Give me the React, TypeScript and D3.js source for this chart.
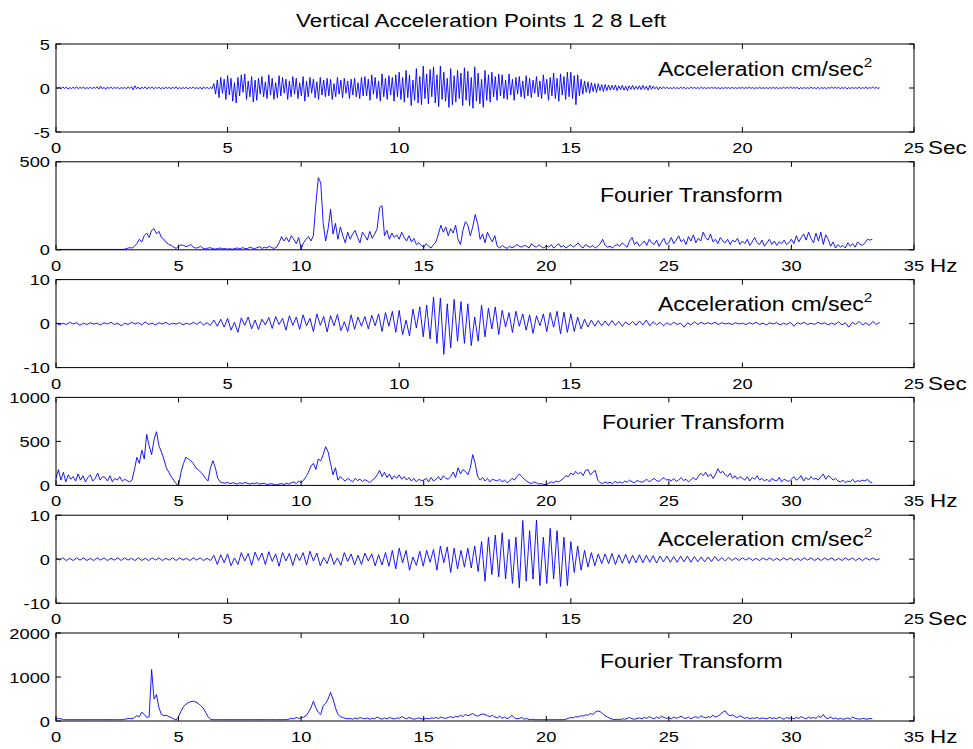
import React from "react";
import * as d3 from "d3";

// ---------- DATA ----------
const TITLE = "Vertical Acceleration Points 1 2 8 Left";
const TIME_TICKS = [0, 5, 10, 15, 20, 25];
const FREQ_TICKS = [0, 5, 10, 15, 20, 25, 30, 35];
const DT1 = 0.05; // sec between samples of the first acceleration record
const DT = 0.1; // sec between samples of the other acceleration records
const DF = 0.1; // Hz between samples of spectra

const acc1 = [
  0.1,-0.05,0.08,-0.1,0.12,-0.06,0.1,-0.12,0.05,-0.08,0.1,-0.06,0.15,-0.1,0.08,-0.05,0.12,-0.1,0.06,-0.08,
  0.12,-0.08,0.1,-0.05,0.15,-0.12,0.2,-0.1,0.08,-0.15,0.1,-0.06,0.12,-0.1,0.08,-0.05,0.1,-0.12,0.06,-0.05,
  0.08,-0.1,0.12,-0.06,0.15,-0.2,0.25,-0.1,0.12,-0.15,0.1,-0.08,0.15,-0.12,0.1,-0.06,0.12,-0.1,0.08,-0.05,
  0.1,-0.12,0.06,-0.08,0.1,-0.05,0.08,-0.1,0.12,-0.08,0.15,-0.1,0.06,-0.08,0.05,-0.06,0.1,-0.12,0.08,-0.05,
  0.12,-0.08,0.06,-0.1,0.1,-0.15,0.12,-0.06,0.08,-0.1,0.1,-0.08,0.5,-0.7,0.9,-1.1,1.2,-0.6,1.0,-1.3,
  1.4,-0.8,1.1,-1.5,0.6,-1.7,1.2,-0.9,1.5,-0.5,1.6,-1.3,0.8,-1.0,1.3,-1.6,0.9,-1.4,1.1,-0.7,
  1.3,-1.0,0.7,-1.2,1.5,-0.8,1.1,-1.3,0.6,-1.1,1.4,-0.9,1.2,-0.6,1.0,-1.3,0.8,-1.0,1.3,-0.7,
  1.1,-1.2,0.6,-0.9,1.3,-1.5,0.8,-1.0,1.2,-0.6,1.0,-1.1,0.7,-1.3,1.2,-0.8,0.9,-1.0,1.1,-0.9,
  1.0,-1.3,0.5,-1.0,1.2,-0.7,0.9,-1.1,1.1,-0.6,0.8,-1.2,1.0,-0.8,1.1,-1.0,0.6,-1.2,1.2,-0.9,
  1.3,-0.9,1.0,-1.4,1.5,-0.7,1.2,-1.2,0.8,-1.5,1.6,-1.0,1.1,-1.3,1.4,-0.8,1.2,-1.5,1.5,-1.0,
  1.8,-1.3,1.2,-1.6,2.0,-1.1,1.5,-2.0,0.9,-1.4,2.2,-1.7,1.3,-1.9,2.5,-1.2,1.6,-1.8,2.1,-1.0,
  2.4,-1.7,1.5,-2.1,2.5,-1.3,1.8,-1.5,1.1,-2.2,2.2,-1.9,1.4,-1.6,2.0,-1.2,1.7,-2.0,2.3,-1.4,
  1.9,-2.0,1.2,-2.3,2.4,-1.5,1.7,-1.8,1.0,-2.2,2.0,-1.4,1.5,-1.6,1.8,-1.0,1.3,-1.4,1.6,-0.9,
  1.5,-1.2,0.9,-1.3,1.6,-0.8,1.0,-1.4,1.2,-0.7,1.3,-1.0,0.8,-1.2,1.4,-0.9,1.1,-1.1,0.9,-0.6,
  1.3,-1.0,0.8,-1.2,1.5,-0.7,1.0,-1.4,1.2,-0.9,1.7,-1.2,1.1,-1.5,1.6,-0.8,1.3,-1.3,1.8,-1.0,
  1.8,-1.2,1.4,-1.9,1.5,-0.9,1.0,-0.7,0.8,-0.5,0.7,-0.6,0.6,-0.4,0.5,-0.5,0.5,-0.3,0.4,-0.4,
  0.4,-0.3,0.35,-0.25,0.3,-0.2,0.35,-0.3,0.25,-0.2,0.3,-0.25,0.2,-0.3,0.25,-0.15,0.3,-0.2,0.2,-0.15,
  0.25,-0.2,0.3,-0.15,0.2,-0.25,0.3,-0.15,0.2,-0.1,0.15,-0.2,0.12,-0.1,0.15,-0.08,0.1,-0.12,0.08,-0.1,
  0.1,-0.08,0.06,-0.1,0.12,-0.05,0.08,-0.1,0.06,-0.08,0.1,-0.05,0.08,-0.06,0.05,-0.08,0.1,-0.06,0.06,-0.08,
  0.06,-0.05,0.08,-0.04,0.06,-0.06,0.05,-0.08,0.04,-0.05,0.06,-0.04,0.05,-0.06,0.07,-0.05,0.04,-0.06,0.05,-0.04,
  0.08,-0.06,0.05,-0.04,0.1,-0.05,0.06,-0.08,0.05,-0.06,0.1,-0.06,0.04,-0.05,0.06,-0.07,0.05,-0.04,0.07,-0.05,
  0.06,-0.08,0.04,-0.05,0.1,-0.06,0.08,-0.05,0.12,-0.05,0.06,-0.04,0.08,-0.1,0.05,-0.06,0.06,-0.05,0.04,-0.06,
  0.1,-0.06,0.05,-0.08,0.08,-0.1,0.06,-0.05,0.05,-0.08,0.06,-0.04,0.12,-0.06,0.08,-0.05,0.1,-0.08,0.06,-0.05,
  0.08,-0.1,0.05,-0.06,0.06,-0.05,0.04,-0.06,0.1,-0.08,0.06,-0.05,0.12,-0.1,0.08,-0.06,0.15,-0.05,0.08,-0.06,
  0.05,
];

const acc2 = [
  0.2,-0.3,0.1,-0.2,0.3,-0.1,0.2,-0.4,0.1,-0.2,
  0.2,-0.1,0.1,-0.3,0.2,-0.1,0.3,-0.2,0.1,-0.5,
  0.1,-0.2,0.3,-0.1,0.2,-0.3,0.4,-0.2,0.1,-0.3,
  0.2,-0.1,0.3,-0.2,0.1,-0.1,0.2,-0.3,0.1,-0.2,
  0.3,-0.2,0.4,-0.3,0.2,-0.4,0.8,-0.6,1.0,-0.8,
  1.2,-1.5,0.3,-2.0,1.3,-0.4,1.5,-1.2,0.8,-1.3,
  1.0,-0.3,1.4,-1.1,1.6,-0.2,1.2,-1.5,1.8,-0.4,
  1.5,-1.3,2.0,-0.5,1.2,-1.8,2.2,-0.4,1.6,-1.9,
  1.8,-0.5,2.1,-1.6,0.4,-1.8,2.0,-1.3,1.5,-0.6,
  1.6,-1.2,1.9,-0.5,2.2,-1.8,2.5,-0.6,2.8,-2.0,
  3.0,-2.5,0.8,-2.8,3.3,-1.0,3.8,-3.0,4.2,-3.5,
  6.0,-4.5,5.8,-7.0,4.5,-5.5,5.5,-4.0,5.0,-4.5,
  4.5,-5.0,1.5,-4.0,4.2,-3.0,3.5,-1.2,3.8,-2.5,
  3.0,-0.8,2.5,-2.0,2.8,-0.6,2.2,-1.5,2.0,-2.2,
  1.8,-0.5,2.2,-1.8,2.5,-0.8,2.8,-2.3,2.6,-2.0,
  2.2,-1.8,1.5,-1.2,1.0,-0.8,0.8,-0.6,0.7,-0.5,
  0.6,-0.5,0.7,-0.4,0.5,-0.6,0.4,-0.3,0.5,-0.4,
  0.6,-0.3,0.8,-0.5,0.4,-0.3,0.3,-0.5,0.2,-0.3,
  0.3,-0.2,0.1,-0.8,0.2,-0.3,0.4,-0.2,0.3,-0.1,
  0.2,-0.1,0.3,-0.2,0.2,-0.1,0.1,-0.2,0.2,-0.1,
  0.1,-0.2,0.2,-0.1,0.3,-0.2,0.1,-0.3,0.2,-0.1,
  0.2,-0.3,0.1,-0.2,0.3,-0.6,0.2,-0.1,0.3,-0.2,
  0.1,-0.2,0.3,-0.1,0.2,-0.3,0.1,-0.2,0.4,-0.3,
  0.2,-0.8,0.3,-0.2,0.5,-0.3,0.2,-0.4,0.5,-0.2,
  0.3,
];

const acc3 = [
  0.3,-0.2,0.3,-0.3,0.2,-0.3,0.3,-0.2,0.3,-0.3,
  0.2,-0.3,0.3,-0.2,0.3,-0.3,0.2,-0.2,0.3,-0.3,
  0.3,-0.2,0.2,-0.3,0.3,-0.3,0.2,-0.3,0.3,-0.2,
  0.3,-0.3,0.2,-0.2,0.3,-0.3,0.3,-0.2,0.2,-0.3,
  0.3,-0.2,0.3,-0.3,0.2,-0.3,0.9,-1.2,1.0,-0.8,
  1.2,-1.5,0.3,-1.2,1.5,-0.4,1.3,-1.4,1.6,-0.3,
  1.4,-1.2,1.7,-0.5,1.2,-1.6,1.5,-0.4,1.3,-1.4,
  1.2,-0.3,1.5,-1.3,1.8,-0.4,1.4,-1.5,0.4,-1.0,
  1.3,-1.2,0.3,-1.4,1.5,-0.5,1.2,-1.3,0.9,-1.2,
  1.4,-0.4,1.2,-1.5,1.0,-1.3,1.5,-1.6,2.0,-2.2,
  2.5,-0.8,2.0,-2.5,0.5,-1.4,1.8,-1.6,2.0,-0.7,
  2.2,-2.5,3.0,-0.8,2.8,-3.0,2.5,-2.2,2.0,-1.8,
  2.5,-2.0,3.0,-2.8,4.0,-5.0,5.0,-3.5,5.5,-4.0,
  6.0,-4.5,4.5,-5.5,5.0,-6.5,8.8,-5.0,6.5,-4.5,
  8.9,-6.0,5.0,-5.5,7.0,-4.5,6.5,-6.2,5.0,-6.0,
  4.0,-3.0,3.0,-2.5,2.0,-1.8,1.5,-1.5,1.2,-1.0,
  1.2,-1.0,1.3,-1.2,1.0,-0.9,1.1,-1.0,0.9,-0.8,
  1.0,-0.8,0.9,-0.7,0.8,-0.9,0.7,-0.6,0.7,-0.7,
  0.6,-0.7,0.7,-0.6,0.7,-0.7,0.6,-0.6,0.5,-0.6,
  0.5,-0.5,0.6,-0.4,0.4,-0.4,0.4,-0.3,0.3,-0.3,
  0.3,-0.2,0.3,-0.3,0.2,-0.3,0.3,-0.2,0.3,-0.3,
  0.2,-0.3,0.3,-0.2,0.3,-0.3,0.2,-0.3,0.3,-0.2,
  0.3,-0.3,0.2,-0.3,0.3,-0.2,0.3,-0.3,0.2,-0.3,
  0.3,-0.2,0.3,-0.3,0.2,-0.3,0.3,-0.2,0.3,-0.2,
  0.1,
];

const fft1 = [
  2,2,2,2,2,2,2,2,2,2,
  2,2,2,2,2,2,2,2,2,2,
  2,2,2,2,2,2,2,2,3,8,
  12,10,20,35,60,45,80,95,70,110,
  120,90,105,70,60,40,30,25,15,8,
  20,28,25,18,22,30,15,10,12,20,
  8,5,10,12,6,4,8,10,5,7,
  4,6,3,8,10,5,12,8,6,15,
  10,6,12,18,8,14,10,20,12,8,
  15,40,75,50,70,45,80,60,35,70,
  5,40,60,75,50,80,260,410,380,150,
  50,120,230,90,150,60,130,80,40,100,
  60,90,110,70,40,100,80,55,105,65,
  90,120,240,250,80,110,60,95,70,85,
  60,100,70,50,80,45,65,30,40,25,
  15,35,20,10,30,45,90,140,100,130,
  80,120,95,140,60,30,110,160,140,80,
  130,200,150,60,90,40,100,70,45,80,
  20,10,25,15,8,20,12,18,30,20,
  15,25,20,10,35,20,15,28,18,10,
  25,15,30,10,20,35,15,25,10,20,
  30,15,25,40,20,10,30,20,15,25,
  10,20,35,60,25,15,20,10,25,30,
  20,40,25,15,50,70,30,45,20,35,
  50,25,60,40,30,55,20,45,65,30,
  40,70,35,55,80,45,60,30,75,50,
  85,40,65,50,100,70,55,90,45,60,
  35,70,50,40,60,30,55,45,65,30,
  50,35,60,25,45,70,40,30,55,20,
  40,60,30,50,25,45,35,55,30,40,
  60,35,80,45,70,90,55,100,65,40,
  95,50,100,30,85,60,20,45,10,30,
  15,25,10,40,20,35,15,45,30,25,
  40,60,55,60,
];

const fft2 = [
  80,180,60,150,40,120,70,100,50,130,
  60,110,40,90,120,50,80,140,60,100,
  90,50,110,40,80,60,100,45,70,55,
  40,60,180,320,250,400,300,580,450,350,
  520,610,450,380,300,200,150,100,60,20,
  0,150,250,320,300,280,250,200,180,150,
  120,80,50,200,280,200,80,40,30,25,
  35,20,30,25,15,30,20,35,25,15,
  25,20,30,15,20,25,10,15,20,10,
  5,15,20,10,25,15,30,40,20,50,
  30,60,100,150,220,250,180,300,280,350,
  440,380,250,120,200,60,100,70,50,80,
  60,40,80,55,70,45,65,50,30,60,
  80,120,170,100,150,90,130,70,110,80,
  120,70,100,60,90,50,80,40,70,55,
  60,80,40,90,50,70,100,60,110,80,
  70,100,150,90,200,130,180,160,120,200,
  350,250,100,60,90,50,80,40,70,60,
  50,70,40,60,30,50,80,60,100,130,
  100,70,50,30,20,40,30,15,20,10,
  10,25,40,30,50,40,60,80,110,100,
  140,120,160,130,150,110,170,180,120,150,
  170,60,30,20,40,25,35,20,45,30,
  40,25,50,35,60,40,30,55,45,35,
  50,70,40,60,80,55,45,70,90,60,
  70,50,80,45,60,90,55,70,40,65,
  90,60,100,140,110,150,100,130,80,120,
  190,140,160,120,100,140,80,110,70,100,
  80,60,100,50,90,70,110,60,80,50,
  70,40,80,60,50,90,40,70,55,45,
  70,100,60,80,110,50,90,60,100,70,
  80,60,100,130,70,110,90,60,80,50,
  40,60,30,50,40,70,35,55,45,60,
  50,70,40,30,
];

const fft3 = [
  40,60,50,30,30,30,30,30,30,30,
  30,30,30,30,30,30,30,30,30,30,
  30,30,30,30,30,30,30,30,40,50,
  60,50,80,120,100,200,150,80,100,1170,
  500,600,300,150,120,130,100,80,50,20,
  100,220,330,380,420,440,450,430,400,350,
  300,200,100,40,30,30,30,30,30,30,
  30,30,30,30,30,30,30,30,30,30,
  30,30,30,30,30,30,30,30,30,30,
  30,30,30,30,30,40,60,50,80,60,
  70,90,120,200,300,450,300,200,150,350,
  400,500,650,500,300,150,100,80,60,50,
  60,40,70,50,80,60,50,70,40,60,
  50,90,60,40,70,50,80,60,45,70,
  60,100,70,50,80,60,40,55,70,50,
  40,60,50,70,60,80,55,90,70,60,
  80,100,70,110,90,130,100,150,120,140,
  170,130,110,140,160,150,120,100,130,90,
  70,110,60,90,50,80,130,70,50,60,
  80,40,60,30,40,30,30,30,30,30,
  30,30,30,30,30,30,30,30,40,60,
  80,70,100,90,120,110,140,130,170,150,
  200,230,210,170,120,90,60,40,30,40,
  30,50,40,60,80,50,40,60,70,50,
  80,60,100,70,50,90,60,110,80,60,
  70,50,90,60,80,110,70,60,90,50,
  80,100,60,120,90,70,100,80,130,90,
  110,150,200,230,150,120,140,100,80,120,
  90,60,80,50,70,60,80,50,70,60,
  50,80,60,70,50,90,60,40,80,60,
  70,50,80,60,100,70,50,90,60,80,
  60,110,80,150,70,60,90,50,70,40,
  60,40,50,70,40,90,60,50,40,60,
  50,40,60,50,
];

const accTicks1 = [-5, 0, 5];
const accTicks2 = [-10, 0, 10];
const fftTicks1 = [0, 500];
const fftTicks2 = [0, 500, 1000];
const fftTicks3 = [0, 1000, 2000];

// ---------- LAYOUT ----------
const W = 973;
const H = 749;
const LEFT = 56;
const RIGHT = 914;
const TOP0 = 44;
const STEP = 117.8;
const PH = 88;
const SX = 1.18; // horizontal stretch of the original's text
const FONT = "'Liberation Sans', Arial, Helvetica, sans-serif";
const TICK = 5;

type Panel = {
  kind: "time" | "freq";
  data: number[];
  step: number;
  yDomain: [number, number];
  yTicks: number[];
  labelX: number;
  labelDy: number;
};

const panels: Panel[] = [
  { kind: "time", data: acc1, step: DT1, yDomain: [-5, 5], yTicks: accTicks1, labelX: 658, labelDy: 32 },
  { kind: "freq", data: fft1, step: DF, yDomain: [0, 500], yTicks: fftTicks1, labelX: 600, labelDy: 40 },
  { kind: "time", data: acc2, step: DT, yDomain: [-10, 10], yTicks: accTicks2, labelX: 658, labelDy: 31 },
  { kind: "freq", data: fft2, step: DF, yDomain: [0, 1000], yTicks: fftTicks2, labelX: 602, labelDy: 32 },
  { kind: "time", data: acc3, step: DT, yDomain: [-10, 10], yTicks: accTicks2, labelX: 658, labelDy: 31 },
  { kind: "freq", data: fft3, step: DF, yDomain: [0, 2000], yTicks: fftTicks3, labelX: 600, labelDy: 35 },
];

function T(props: { x: number; y: number; size: number; anchor?: string; children: React.ReactNode }) {
  const { x, y, size, anchor = "start", children } = props;
  return (
    <text
      transform={`translate(${x},${y}) scale(${SX},1)`}
      fontSize={size}
      textAnchor={anchor}
      fontFamily={FONT}
      fill="#000"
    >
      {children}
    </text>
  );
}

function PanelView({ p, idx }: { p: Panel; idx: number }) {
  const top = TOP0 + idx * STEP;
  const bottom = top + PH;
  const isTime = p.kind === "time";
  const xTicks = isTime ? TIME_TICKS : FREQ_TICKS;
  const x = d3.scaleLinear().domain([0, isTime ? 25 : 35]).range([LEFT, RIGHT]);
  const y = d3.scaleLinear().domain(p.yDomain).range([bottom, top]);
  const line = d3
    .line<number>()
    .x((_, i) => x(i * p.step))
    .y((d) => y(d));
  return (
    <g>
      <rect x={LEFT} y={top} width={RIGHT - LEFT} height={PH} fill="#fff" stroke="none" />
      <path d={line(p.data) || ""} fill="none" stroke="#0000ff" strokeWidth={0.9} />
      <rect x={LEFT} y={top} width={RIGHT - LEFT} height={PH} fill="none" stroke="#000" strokeWidth={1} />
      {xTicks.map((t) => (
        <g key={"x" + t}>
          <line x1={x(t)} x2={x(t)} y1={bottom} y2={bottom - TICK} stroke="#000" />
          <line x1={x(t)} x2={x(t)} y1={top} y2={top + TICK} stroke="#000" />
          <T x={x(t)} y={bottom + 21} size={15.5} anchor="middle">
            {t}
          </T>
        </g>
      ))}
      {p.yTicks.map((t) => (
        <g key={"y" + t}>
          <line x1={LEFT} x2={LEFT + TICK} y1={y(t)} y2={y(t)} stroke="#000" />
          <line x1={RIGHT} x2={RIGHT - TICK} y1={y(t)} y2={y(t)} stroke="#000" />
          <T x={LEFT - 6} y={y(t) + 5.5} size={15.5} anchor="end">
            {t}
          </T>
        </g>
      ))}
      <T x={isTime ? 928 : 930} y={bottom + 22} size={19}>
        {isTime ? "Sec" : "Hz"}
      </T>
      {isTime ? (
        <T x={p.labelX} y={top + p.labelDy} size={19.5}>
          Acceleration cm/sec
          <tspan fontSize={13} dy={-9}>
            2
          </tspan>
        </T>
      ) : (
        <T x={p.labelX} y={top + p.labelDy} size={19.5}>
          Fourier Transform
        </T>
      )}
    </g>
  );
}

export default function App() {
  return (
    <svg width={W} height={H} style={{ display: "block", position: "absolute", left: 0, top: 0, background: "#fff" }}>
      <rect x={0} y={0} width={W} height={H} fill="#fff" />
      <T x={481} y={27} size={19} anchor="middle">
        {TITLE}
      </T>
      {panels.map((p, i) => (
        <PanelView key={i} p={p} idx={i} />
      ))}
    </svg>
  );
}
